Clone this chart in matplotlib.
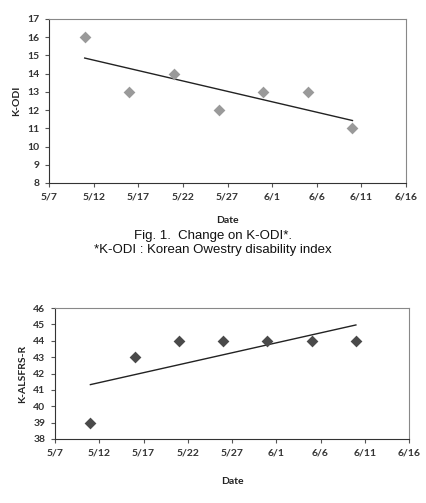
import numpy as np
import matplotlib
matplotlib.use("Agg")
import matplotlib.pyplot as plt

# days counted from 5/7
days = [4, 9, 14, 19, 24, 29, 34]
kodi = [16, 13, 14, 12, 13, 13, 11]
kalsfrs = [39, 43, 44, 44, 44, 44, 44]
xtick_labels = ["5/7", "5/12", "5/17", "5/22", "5/27", "6/1", "6/6", "6/11", "6/16"]

W, H = 426, 503
fig = plt.figure(figsize=(W / 100, H / 100), dpi=100)
fig.patch.set_facecolor("white")

tick_font = dict(family="Lato", fontsize=7.5, fontweight="bold", color="#333333")


def make_panel(rect, y, ylim, ylabel, mcolor):
    ax = fig.add_axes(rect)
    ax.scatter(days, y, marker="D", s=36, color=mcolor, zorder=3, linewidths=0)
    # linear trendline
    k, b = np.polyfit(days, y, 1)
    xs = np.array([days[0], days[-1]])
    ax.plot(xs, k * xs + b, color="#222222", lw=1.0, zorder=2)
    ax.set_xlim(0, 40)
    ax.set_ylim(*ylim)
    ax.set_xticks(range(0, 41, 5))
    ax.set_xticklabels(xtick_labels)
    ax.set_yticks(range(ylim[0], ylim[1] + 1))
    for lab in ax.get_xticklabels() + ax.get_yticklabels():
        lab.set_fontfamily(tick_font["family"])
        lab.set_fontsize(tick_font["fontsize"])
        lab.set_fontweight(tick_font["fontweight"])
        lab.set_color(tick_font["color"])
    ax.tick_params(direction="out", length=3, width=0.8, color="#555555", pad=4)
    for s in ax.spines.values():
        s.set_color("#888888")
        s.set_linewidth(0.8)
    ax.spines["left"].set_color("#333333")
    ax.spines["bottom"].set_color("#333333")
    ax.set_ylabel(ylabel, fontfamily="Lato", fontsize=7.5, fontweight="bold", color="#222222", labelpad=4)
    return ax


ax1 = make_panel([49 / W, 1 - 183 / H, (406 - 49) / W, (183 - 19) / H], kodi, (8, 17), "K-ODI", "#9a9a9a")
ax1.set_xlabel("Date", fontfamily="Lato", fontsize=7.5, fontweight="bold", color="#222222", labelpad=10)

ax2 = make_panel([55 / W, 1 - 439 / H, (409 - 55) / W, (439 - 308) / H], kalsfrs, (38, 46), "K-ALSFRS-R", "#4a4a4a")
ax2.set_xlabel("Date", fontfamily="Lato", fontsize=7.5, fontweight="bold", color="#222222", labelpad=14)

fig.text(0.5, 1 - 236 / H, "Fig. 1.  Change on K-ODI*.", ha="center", va="center",
         fontfamily="Liberation Sans", fontsize=9.5, color="#111111")
fig.text(0.5, 1 - 250 / H, "*K-ODI : Korean Owestry disability index", ha="center", va="center",
         fontfamily="Liberation Sans", fontsize=9.5, color="#111111")

fig.savefig("out.png", dpi=100, facecolor="white")
